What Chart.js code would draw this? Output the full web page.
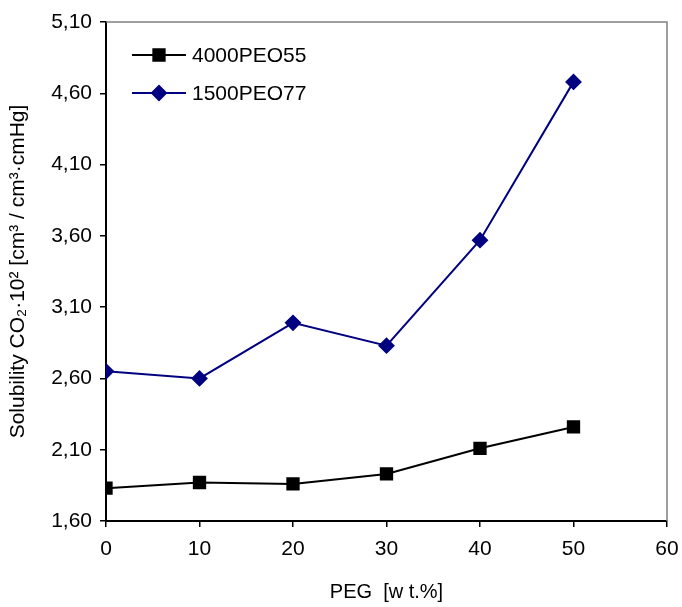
<!DOCTYPE html>
<html>
<head>
<meta charset="utf-8">
<script src="https://cdn.jsdelivr.net/npm/chart.js@4"></script>
<style>
  html, body { margin: 0; padding: 0; background: #fff; }
  #wrap { width: 682px; height: 607px; }
</style>
</head>
<body>
<div id="wrap"><canvas id="c" width="682" height="607"></canvas></div>
<script>
// data
const pegContent = [0, 10, 20, 30, 40, 50];
const peo55 = [1.83, 1.87, 1.86, 1.93, 2.11, 2.26];
const peo77 = [2.65, 2.60, 2.99, 2.83, 3.57, 4.68];
const seriesNames = ["4000PEO55", "1500PEO77"];

const FONT = "'Liberation Sans', Arial, sans-serif";
const NAVY = "#000080";

// grey frame on top/right of the plot area
const frame = {
    id: "frame",
    afterDraw(chart) {
        const { ctx, chartArea: a } = chart;
        ctx.save();
        ctx.strokeStyle = "#808080";
        ctx.lineWidth = 1.5;
        ctx.beginPath();
        ctx.moveTo(a.left, a.top);
        ctx.lineTo(a.right, a.top);
        ctx.lineTo(a.right, a.bottom);
        ctx.stroke();
        ctx.restore();
    }
};

// legend drawn inside the plot, top-left
const insideLegend = {
    id: "insideLegend",
    afterDraw(chart) {
        const { ctx, chartArea: a } = chart;
        ctx.save();
        ctx.font = "21px " + FONT;
        ctx.textBaseline = "middle";
        chart.data.datasets.forEach((ds, i) => {
            const y = a.top + 33 + i * 38;
            const x0 = a.left + 26;
            ctx.strokeStyle = ds.borderColor;
            ctx.lineWidth = 2;
            ctx.beginPath();
            ctx.moveTo(x0, y);
            ctx.lineTo(x0 + 54, y);
            ctx.stroke();
            ctx.fillStyle = ds.pointBackgroundColor;
            ctx.strokeStyle = ds.pointBorderColor;
            Chart.helpers.drawPoint(ctx, {
                pointStyle: ds.pointStyle,
                radius: ds.pointRadius,
                borderWidth: 1
            }, x0 + 27, y);
            ctx.fillStyle = "#000";
            ctx.fillText(ds.label, x0 + 60, y + 1);
        });
        ctx.restore();
    }
};

new Chart(document.getElementById("c"), {
    type: "line",
    data: {
        datasets: [
            {
                label: seriesNames[0],
                data: pegContent.map((x, i) => ({ x, y: peo55[i] })),
                borderColor: "#000",
                borderWidth: 2,
                pointStyle: "rect",
                pointRadius: 8,
                pointBackgroundColor: "#000",
                pointBorderColor: "#000",
                tension: 0
            },
            {
                label: seriesNames[1],
                data: pegContent.map((x, i) => ({ x, y: peo77[i] })),
                borderColor: NAVY,
                borderWidth: 2,
                pointStyle: "rectRot",
                pointRadius: 7,
                pointBackgroundColor: NAVY,
                pointBorderColor: NAVY,
                tension: 0
            }
        ]
    },
    options: {
        responsive: false,
        animation: false,
        layout: { padding: { top: 22, right: 15, left: 0, bottom: 0 } },
        plugins: {
            legend: { display: false },
            tooltip: { enabled: false }
        },
        scales: {
            x: {
                type: "linear",
                min: 0,
                max: 60,
                afterFit(axis) {
                    axis.height = 86;
                    axis.paddingLeft = 0;
                    axis.paddingRight = 0;
                },
                ticks: {
                    stepSize: 10,
                    color: "#000",
                    padding: 10,
                    font: { family: FONT, size: 21 }
                },
                grid: {
                    drawOnChartArea: false,
                    drawTicks: true,
                    tickLength: 6,
                    color: "#000",
                    lineWidth: 1.5
                },
                border: { color: "#000", width: 2 },
                title: {
                    display: true,
                    text: "PEG  [w t.%]",
                    color: "#000",
                    font: { family: FONT, size: 20 },
                    padding: { top: 0, bottom: 3 }
                }
            },
            y: {
                min: 1.6,
                max: 5.1,
                afterFit(axis) { axis.width = 106; },
                afterBuildTicks(axis) {
                    axis.ticks = [1.6, 2.1, 2.6, 3.1, 3.6, 4.1, 4.6, 5.1].map(v => ({ value: v }));
                },
                ticks: {
                    color: "#000",
                    padding: 8,
                    font: { family: FONT, size: 21 },
                    callback: v => v.toFixed(2).replace(".", ",")
                },
                grid: {
                    drawOnChartArea: false,
                    drawTicks: true,
                    tickLength: 6,
                    color: "#000",
                    lineWidth: 1.5
                },
                border: { color: "#000", width: 2 },
                title: {
                    display: true,
                    text: "Solubility CO\u2082\u00B710\u00B2 [cm\u00B3 / cm\u00B3\u00B7cmHg]",
                    color: "#000",
                    font: { family: FONT, size: 21 },
                    padding: { top: 6, bottom: 0 }
                }
            }
        }
    },
    plugins: [frame, insideLegend]
});
</script>
</body>
</html>
